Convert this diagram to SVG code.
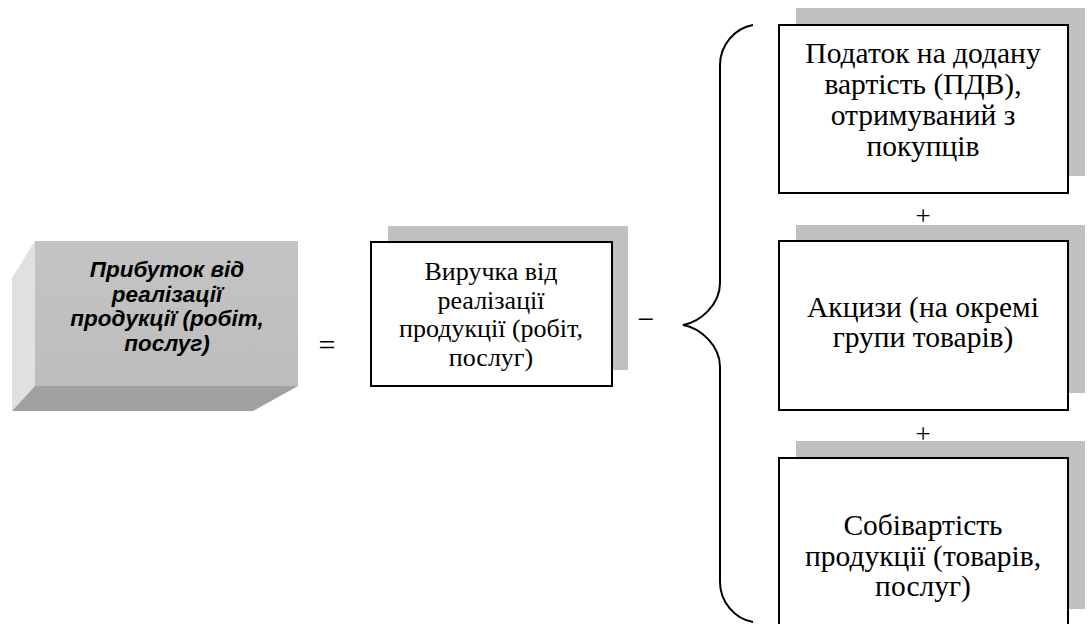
<svg xmlns="http://www.w3.org/2000/svg" width="1090" height="624" viewBox="0 0 1090 624">
  <style>
    .box { fill: #ffffff; stroke: #000000; stroke-width: 2; }
    .shadow { fill: #c0c0c0; }
    .t { font-family: "Liberation Serif", "Times New Roman", serif; fill: #000000; text-anchor: middle; }
    .mid { font-size: 26px; }
    .side { font-size: 29.5px; }
    .lead { font-family: "Liberation Sans", Arial, sans-serif; font-size: 22.5px; font-weight: bold; font-style: italic; fill: #000000; text-anchor: middle; }
    .op { font-family: "Liberation Serif", "Times New Roman", serif; font-size: 30px; fill: #000000; text-anchor: middle; }
    .plus { font-family: "Liberation Serif", "Times New Roman", serif; font-size: 27px; fill: #000000; text-anchor: middle; }
    .brace { fill: none; stroke: #000000; stroke-width: 2; }
  </style>
  <defs>
    <linearGradient id="frontFace" x1="0" y1="0" x2="0" y2="1">
      <stop offset="0" stop-color="#c4c4c4"/>
      <stop offset="1" stop-color="#bdbdbd"/>
    </linearGradient>
  </defs>

  <rect width="1090" height="624" fill="#ffffff"/>

  <!-- extruded result block: side, bottom and front faces -->
  <g id="profit">
    <polygon points="35,241 35,386 12,411 12,278" fill="#e0e0e0"/>
    <polygon points="35,386 298,386 253,411 12,411" fill="#a0a0a0"/>
    <rect x="35" y="241" width="263" height="145" fill="url(#frontFace)"/>
    <text class="lead" x="167" y="277">Прибуток від</text>
    <text class="lead" x="167" y="301.5">реалізації</text>
    <text class="lead" x="167" y="326">продукції (робіт,</text>
    <text class="lead" x="167" y="350.5">послуг)</text>
  </g>

  <!-- operators and brace -->
  <g id="connectors">
    <text class="op" x="327" y="355">=</text>
    <text class="op" x="646" y="329">−</text>
    <path class="brace" d="M753,25 C735,28 720,45 720,65 L720,283 C720,305 700,322 683,325 C700,328 720,345 720,367 L720,582 C720,602 735,619 753,622"/>
    <text class="plus" x="923" y="225">+</text>
    <text class="plus" x="923" y="443">+</text>
  </g>

  <g id="revenue">
    <rect class="shadow" x="388" y="226" width="240" height="144"/>
    <rect class="box" x="371" y="242" width="241" height="144"/>
    <text class="t mid" x="491" y="280">Виручка від</text>
    <text class="t mid" x="491" y="308.5">реалізації</text>
    <text class="t mid" x="491" y="337">продукції (робіт,</text>
    <text class="t mid" x="491" y="365.5">послуг)</text>
  </g>

  <g id="vat">
    <rect class="shadow" x="796" y="8" width="289" height="168"/>
    <rect class="box" x="779" y="25" width="289" height="168"/>
    <text class="t side" x="923" y="63">Податок на додану</text>
    <text class="t side" x="923" y="94">вартість (ПДВ),</text>
    <text class="t side" x="923" y="125">отримуваний з</text>
    <text class="t side" x="923" y="156">покупців</text>
  </g>

  <g id="excise">
    <rect class="shadow" x="796" y="225" width="289" height="168"/>
    <rect class="box" x="779" y="241" width="289" height="169"/>
    <text class="t side" x="923" y="317">Акцизи (на окремі</text>
    <text class="t side" x="923" y="347">групи товарів)</text>
  </g>

  <g id="cost">
    <rect class="shadow" x="796" y="441" width="289" height="168"/>
    <rect class="box" x="779" y="458" width="289" height="168"/>
    <text class="t side" x="923" y="535">Собівартість</text>
    <text class="t side" x="923" y="565.5">продукції (товарів,</text>
    <text class="t side" x="923" y="596">послуг)</text>
  </g>
</svg>
